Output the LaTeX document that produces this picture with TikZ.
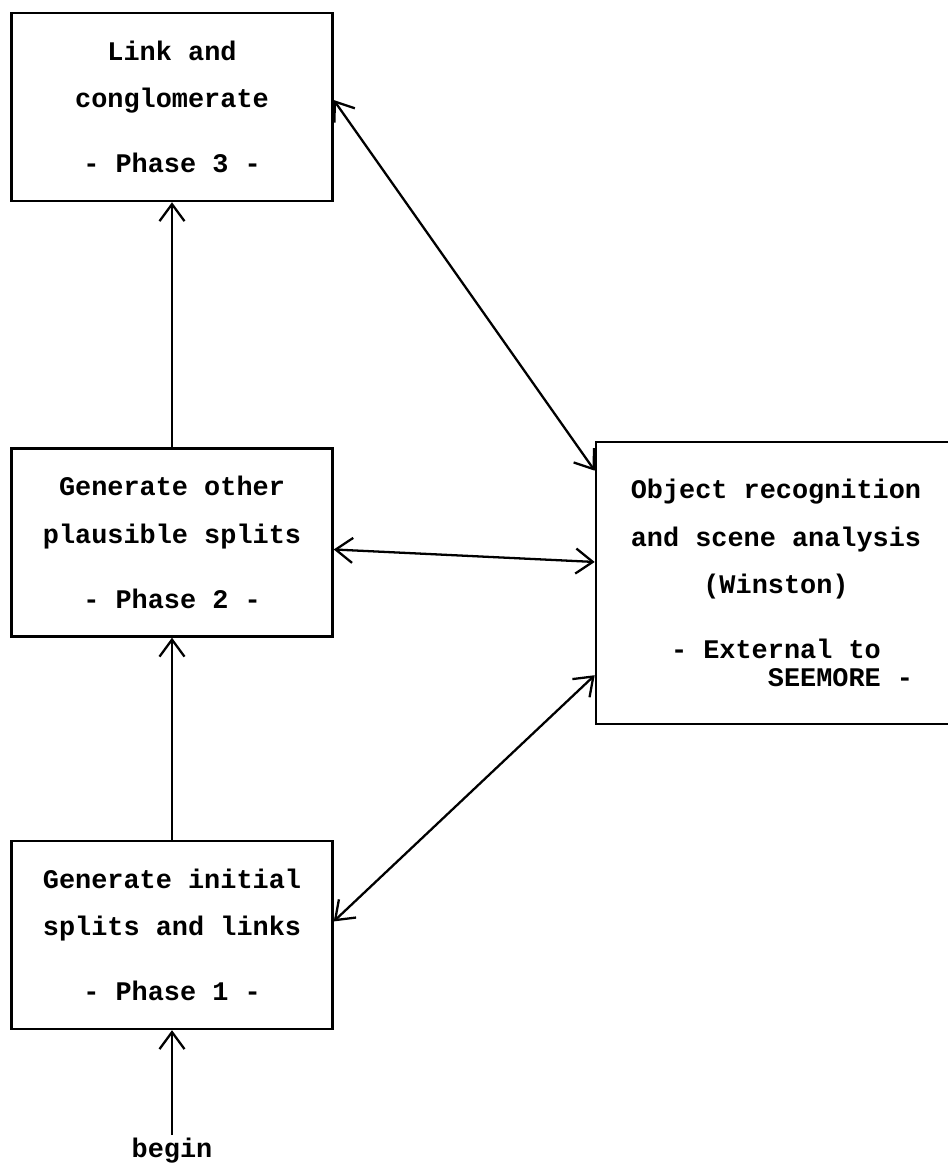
\documentclass[tikz,border=0pt]{standalone}
\usepackage{fontspec}
\setmonofont{Liberation Mono}
\usepackage{tikz}
\usetikzlibrary{arrows.meta,positioning}

\begin{document}
\begin{tikzpicture}[
  phasebox/.style={draw, line width=1.4pt, minimum width=6.42cm, minimum height=3.76cm, align=center,
    font=\ttfamily\bfseries\fontsize{15.3}{27}\selectfont},
  extbox/.style={phasebox, minimum width=7.2cm, minimum height=5.64cm},
  line width=1.3pt, >={Straight Barb[length=3.4mm,width=5mm]}
]
\useasboundingbox (0,0) rectangle (18.96,-23.28);

% Phases of the program
\node[phasebox] (link) at (3.44,-2.14) {Link and\\conglomerate\\[10pt]- Phase 3 -};
\node[phasebox, below=4.9cm of link] (plausible) {Generate other\\plausible splits\\[10pt]- Phase 2 -};
\node[phasebox, below=4.04cm of plausible] (initial) {Generate initial\\splits and links\\[10pt]- Phase 1 -};
\node[font=\ttfamily\bfseries\fontsize{15.3}{27}\selectfont, inner sep=1pt, below=2.1cm of initial] (begin) {begin};

% External program
\node[extbox, right=5.22cm of plausible, yshift=-0.81cm] (winston) {Object recognition\\and scene analysis\\(Winston)\\[10pt]- External to\\[-11pt]\hspace*{4.8em}SEEMORE -};

% Connections
\draw[->] (begin) -- (initial);
\draw[->] (initial) -- (plausible);
\draw[->] (plausible) -- (link);
\draw[<->] ([yshift=0.14cm]link.east) -- ([yshift=-0.6cm]winston.north west);
\draw[<->] ([yshift=-0.14cm]plausible.east) -- ([yshift=0.42cm]winston.west);
\draw[<->] ([yshift=0.27cm]initial.east) -- ([yshift=1cm]winston.south west);
\end{tikzpicture}
\end{document}
